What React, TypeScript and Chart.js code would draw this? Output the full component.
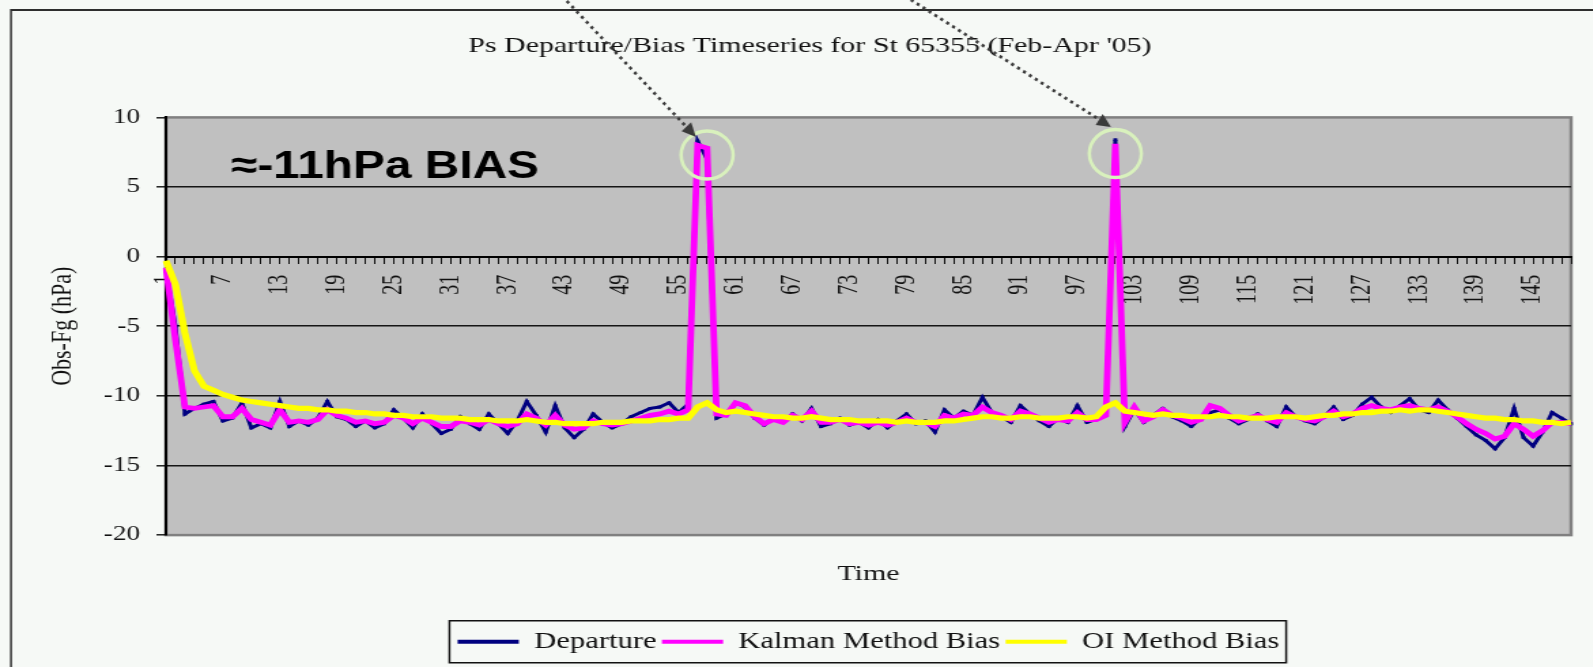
import React, { useEffect, useRef } from 'react';
import { Chart, registerables } from 'chart.js';

Chart.register(...registerables);

// ---------------- data ----------------
const CATEGORIES: string[] = Array.from({ length: 149 }, (_, i) => String(i + 1));

const DEPARTURE: number[] = [
  -0.9, -5.0, -11.3, -10.9, -10.6, -10.4, -11.8, -11.6, -10.5, -12.3,
  -12.0, -12.3, -10.4, -12.2, -11.8, -12.1, -11.6, -10.4, -11.5, -11.7,
  -12.2, -11.8, -12.3, -12.0, -11.0, -11.6, -12.3, -11.3, -12.0, -12.7,
  -12.4, -11.5, -12.0, -12.4, -11.3, -12.0, -12.7, -11.8, -10.4, -11.4,
  -12.6, -10.7, -12.3, -13.0, -12.4, -11.3, -11.9, -12.3, -12.0, -11.5,
  -11.2, -10.9, -10.8, -10.5, -11.2, -10.6, 8.3, 7.0, -11.6, -11.3,
  -10.5, -10.8, -11.6, -12.1, -11.6, -11.9, -11.3, -11.8, -10.9, -12.2,
  -12.0, -11.6, -12.1, -11.9, -12.3, -11.7, -12.3, -11.8, -11.3, -12.0,
  -11.8, -12.6, -11.0, -11.6, -11.1, -11.4, -10.1, -11.2, -11.5, -11.9,
  -10.7, -11.3, -11.8, -12.2, -11.6, -11.9, -10.7, -11.9, -11.7, -11.2,
  8.4, -12.2, -11.0, -11.9, -11.4, -10.9, -11.5, -11.8, -12.2, -11.6,
  -11.2, -11.0, -11.6, -12.0, -11.7, -11.3, -11.8, -12.2, -10.8, -11.5,
  -11.8, -12.0, -11.5, -10.8, -11.7, -11.4, -10.6, -10.1, -10.8, -11.2,
  -10.7, -10.2, -11.0, -11.2, -10.3, -11.0, -11.6, -12.2, -12.8, -13.2,
  -13.8, -13.0, -10.9, -13.0, -13.6, -12.6, -11.2, -11.6, -12.0,
];

const KALMAN_BIAS: number[] = [
  -0.8, -6.0, -10.8, -10.9, -10.8, -10.7, -11.5, -11.5, -10.9, -11.7,
  -11.9, -12.1, -11.0, -11.9, -11.8, -11.9, -11.7, -11.0, -11.4, -11.6,
  -11.9, -11.8, -12.0, -11.9, -11.4, -11.6, -12.0, -11.6, -11.9, -12.2,
  -12.2, -11.8, -11.9, -12.1, -11.7, -12.0, -12.2, -12.0, -11.3, -11.6,
  -12.1, -11.4, -12.1, -12.4, -12.3, -11.8, -12.0, -12.1, -12.0, -11.8,
  -11.6, -11.4, -11.3, -11.1, -11.3, -11.0, 8.0, 7.8, -11.3, -11.4,
  -10.5, -10.7, -11.5, -12.0, -11.7, -11.9, -11.4, -11.7, -11.1, -11.9,
  -11.9, -11.7, -12.0, -11.9, -12.1, -11.9, -12.1, -11.9, -11.6, -11.9,
  -11.9, -12.2, -11.4, -11.6, -11.3, -11.4, -10.8, -11.2, -11.4, -11.7,
  -11.1, -11.3, -11.6, -11.9, -11.7, -11.8, -11.2, -11.7, -11.7, -11.4,
  8.1, -11.9, -10.8, -11.8, -11.5, -11.0, -11.4, -11.6, -11.9, -11.7,
  -10.7, -10.9, -11.4, -11.8, -11.6, -11.4, -11.7, -11.9, -11.2, -11.5,
  -11.7, -11.8, -11.5, -11.1, -11.5, -11.3, -10.9, -10.7, -10.9, -11.0,
  -10.8, -10.7, -10.9, -11.0, -10.8, -11.1, -11.5, -12.0, -12.4, -12.7,
  -13.1, -12.9, -12.0, -12.4, -12.9, -12.5, -11.9, -11.9, -12.0,
];

const OI_BIAS: number[] = [
  -0.3, -2.0, -5.5, -8.2, -9.3, -9.6, -9.9, -10.1, -10.3, -10.4,
  -10.5, -10.6, -10.7, -10.8, -10.9, -10.9, -11.0, -11.0, -11.1, -11.1,
  -11.2, -11.2, -11.3, -11.3, -11.4, -11.4, -11.5, -11.5, -11.5, -11.6,
  -11.6, -11.6, -11.7, -11.7, -11.7, -11.8, -11.8, -11.8, -11.7, -11.8,
  -11.9, -11.9, -12.0, -12.0, -12.0, -12.0, -11.9, -11.9, -11.9, -11.8,
  -11.8, -11.8, -11.7, -11.7, -11.6, -11.6, -10.8, -10.5, -11.0, -11.2,
  -11.1, -11.2, -11.3, -11.4, -11.5, -11.5, -11.6, -11.6, -11.5, -11.6,
  -11.7, -11.7, -11.7, -11.8, -11.8, -11.8, -11.8, -11.9, -11.8, -11.9,
  -11.9, -11.9, -11.8, -11.8, -11.7, -11.6, -11.5, -11.5, -11.6, -11.6,
  -11.5, -11.5, -11.6, -11.6, -11.6, -11.5, -11.5, -11.6, -11.5, -10.8,
  -10.5, -11.1, -11.2, -11.3, -11.4, -11.3, -11.4, -11.4, -11.5, -11.5,
  -11.5, -11.4, -11.5, -11.5, -11.6, -11.6, -11.6, -11.5, -11.5, -11.5,
  -11.6, -11.5, -11.4, -11.4, -11.3, -11.3, -11.2, -11.2, -11.1, -11.1,
  -11.0, -11.1, -11.0, -11.0, -11.1, -11.2, -11.3, -11.4, -11.5, -11.6,
  -11.6, -11.7, -11.7, -11.8, -11.8, -11.9, -11.9, -12.0, -11.9,
];

const SERIES_NAMES = ['Departure', 'Kalman Method Bias', 'OI Method Bias'];
const Y_MIN = -20;
const Y_MAX = 10;
const Y_STEP = 5;
const LABEL_EVERY = 6;
const TITLE = "Ps Departure/Bias Timeseries for St 65355 (Feb-Apr '05)";
const X_TITLE = 'Time';
const Y_TITLE = 'Obs-Fg (hPa)';
const NOTE_TEXT = '≈-11hPa BIAS';
// highlighted peaks (category index, value)
const HIGHLIGHTS = [
  { index: 57.0, value: 7.3 },
  { index: 100, value: 7.4 },
];

// ---------------- geometry / style ----------------
const CANVAS_W = 1191;
const CANVAS_H = 667;
const DISPLAY_W = 1620;
const SX = DISPLAY_W / CANVAS_W;
const BG = '#f6f9f6';
const SERIF = '"Liberation Serif", "Times New Roman", serif';
const TEXT = '#111';

const ARROWS = [
  { from: [562, -4], to: [696, 137] },
  { from: [905, -4], to: [1111, 127] },
];

const bgPlugin = {
  id: 'bgPlugin',
  beforeDraw(chart: any) {
    const { ctx, chartArea: a, width, height } = chart;
    ctx.save();
    ctx.fillStyle = BG;
    ctx.fillRect(0, 0, width, height);
    ctx.save();
    ctx.scale(1 / SX, 1);
    ctx.strokeStyle = '#2e2e2e';
    ctx.lineWidth = 2;
    ctx.strokeRect(11, 10, DISPLAY_W + 60, CANVAS_H + 60);
    ctx.restore();
    ctx.fillStyle = '#c0c0c0';
    ctx.fillRect(a.left, a.top, a.right - a.left, a.bottom - a.top);
    ctx.strokeStyle = '#808080';
    ctx.lineWidth = 2.5;
    ctx.strokeRect(a.left, a.top, a.right - a.left, a.bottom - a.top);
    ctx.restore();
  },
};

const overlayPlugin = {
  id: 'overlayPlugin',
  afterDraw(chart: any) {
    const { ctx, scales } = chart;
    // legend frame
    const hb = chart.legend?.legendHitBoxes;
    if (hb && hb.length) {
      const last = hb[hb.length - 1];
      const left = hb[0].left - 6;
      const right = last.left + last.width + 5;
      const cy = hb[0].top + hb[0].height / 2;
      ctx.save();
      ctx.strokeStyle = '#111';
      ctx.lineWidth = 1.5;
      ctx.strokeRect(left, cy - 21, right - left, 42);
      ctx.restore();
    }

    ctx.save();
    ctx.scale(1 / SX, 1);
    // circles around peaks
    ctx.strokeStyle = '#d9f1bd';
    ctx.lineWidth = 3.5;
    for (const h of HIGHLIGHTS) {
      const cx = scales.x.getPixelForValue(h.index) * SX;
      const cy = scales.y.getPixelForValue(h.value);
      ctx.beginPath();
      ctx.ellipse(cx, cy, 26, 24, 0, 0, Math.PI * 2);
      ctx.stroke();
    }
    // dotted arrows
    for (const ar of ARROWS) {
      const [x0, y0] = ar.from;
      const [x1, y1] = ar.to;
      const ang = Math.atan2(y1 - y0, x1 - x0);
      const headLen = 14;
      const headW = 6.5;
      const bx = x1 - headLen * Math.cos(ang);
      const by = y1 - headLen * Math.sin(ang);
      ctx.strokeStyle = '#3a3a3a';
      ctx.lineWidth = 3;
      ctx.setLineDash([3, 4]);
      ctx.beginPath();
      ctx.moveTo(x0, y0);
      ctx.lineTo(bx, by);
      ctx.stroke();
      ctx.setLineDash([]);
      ctx.fillStyle = '#3a3a3a';
      ctx.beginPath();
      ctx.moveTo(x1, y1);
      ctx.lineTo(bx + headW * Math.sin(ang), by - headW * Math.cos(ang));
      ctx.lineTo(bx - headW * Math.sin(ang), by + headW * Math.cos(ang));
      ctx.closePath();
      ctx.fill();
    }
    // bias note
    ctx.font = 'bold 39px "Liberation Sans", Arial, sans-serif';
    const w = ctx.measureText(NOTE_TEXT).width;
    ctx.translate(231, 178);
    ctx.scale(308 / w, 1);
    ctx.fillStyle = '#000';
    ctx.textBaseline = 'alphabetic';
    ctx.textAlign = 'left';
    ctx.fillText(NOTE_TEXT, 0, 0);
    ctx.restore();
  },
};

export default function App() {
  const ref = useRef<HTMLCanvasElement | null>(null);

  useEffect(() => {
    if (!ref.current) return;
    const colors = ['#000080', '#ff00ff', '#ffff00'];
    const series = [DEPARTURE, KALMAN_BIAS, OI_BIAS];
    const widths = [3, 4.8, 5.2];
    const orders = [3, 2, 1];

    const chart = new Chart(ref.current, {
      type: 'line',
      data: {
        labels: CATEGORIES,
        datasets: series.map((d, i) => ({
          label: SERIES_NAMES[i],
          data: d,
          xAxisID: 'x',
          yAxisID: 'y',
          borderColor: colors[i],
          backgroundColor: colors[i],
          borderWidth: widths[i],
          tension: 0,
          order: orders[i],
          pointRadius: i === 0 ? 2 : 0,
          pointStyle: 'rect',
          pointBackgroundColor: colors[i],
          pointBorderWidth: 0,
          fill: false,
        })),
      },
      options: {
        responsive: false,
        animation: false,
        devicePixelRatio: 1,
        events: [],
        layout: { padding: { left: 0, right: 0, top: 0, bottom: 4 } },
        scales: {
          x: {
            type: 'category',
            position: { y: 0 } as any,
            offset: false,
            ticks: {
              autoSkip: false,
              minRotation: 90,
              maxRotation: 90,
              padding: 12,
              color: TEXT,
              font: { family: SERIF, size: 20 },
              callback: (_v: any, i: number) => (i % LABEL_EVERY === 0 ? CATEGORIES[i] : ''),
            },
            grid: {
              drawOnChartArea: false,
              drawTicks: true,
              tickLength: 6,
              tickColor: '#111',
              tickWidth: 1,
            },
            border: { display: true, color: '#000', width: 2 },
          },
          x2: {
            type: 'category',
            position: 'bottom',
            grid: { display: false, drawTicks: false },
            border: { display: false },
            ticks: { display: false },
            title: {
              display: true,
              text: X_TITLE,
              color: TEXT,
              font: { family: SERIF, size: 22 },
              padding: { top: 26, bottom: 39 },
            },
          },
          y: {
            type: 'linear',
            position: 'left',
            min: Y_MIN,
            max: Y_MAX,
            ticks: {
              stepSize: Y_STEP,
              padding: 12,
              color: TEXT,
              font: { family: SERIF, size: 20 },
            },
            grid: {
              color: (c: any) =>
                c.tick && (c.tick.value === Y_MAX || c.tick.value === Y_MIN) ? 'rgba(0,0,0,0)' : '#151515',
              lineWidth: 1.6,
              tickColor: '#111',
              tickLength: 7,
              tickWidth: 1.4,
            },
            border: { display: true, color: '#000', width: 2 },
            title: {
              display: true,
              text: Y_TITLE,
              color: TEXT,
              font: { family: SERIF, size: 22 },
              padding: { top: 33, bottom: 0 },
            },
            afterFit: (s: any) => {
              s.width = 122;
            },
          },
          yR: {
            type: 'linear',
            position: 'right',
            display: true,
            grid: { display: false, drawTicks: false },
            border: { display: false },
            ticks: { display: false },
            afterFit: (s: any) => {
              s.width = 28;
            },
          },
        },
        plugins: {
          title: {
            display: true,
            text: TITLE,
            color: TEXT,
            font: { family: SERIF, size: 22, weight: 'normal' },
            padding: { top: 33, bottom: 58 },
          },
          legend: {
            display: true,
            position: 'bottom',
            fullSize: false,
            labels: {
              padding: 4,
              boxWidth: 45,
              boxHeight: 4,
              color: TEXT,
              font: { family: SERIF, size: 22.5 },
              generateLabels: (ch: any) =>
                ch.data.datasets.map((ds: any, i: number) => ({
                  text: ds.label,
                  fillStyle: ds.borderColor,
                  strokeStyle: ds.borderColor,
                  lineWidth: 0,
                  hidden: false,
                  datasetIndex: i,
                  fontColor: TEXT,
                })),
            },
          },
          tooltip: { enabled: false },
        },
      } as any,
      plugins: [bgPlugin, overlayPlugin],
    });

    return () => chart.destroy();
  }, []);

  return (
    <div
      style={{
        position: 'fixed',
        left: 0,
        top: 0,
        width: 1593,
        height: 667,
        overflow: 'hidden',
        background: BG,
      }}
    >
      <canvas
        ref={ref}
        width={CANVAS_W}
        height={CANVAS_H}
        style={{ width: DISPLAY_W + 'px', height: CANVAS_H + 'px', display: 'block' }}
      />
    </div>
  );
}
